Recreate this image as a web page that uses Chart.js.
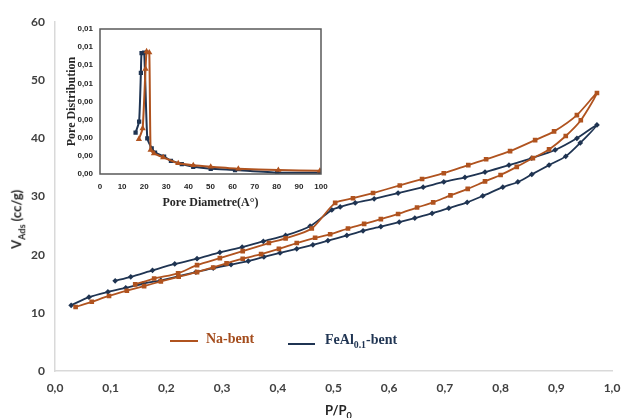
<!DOCTYPE html>
<html>
<head>
<meta charset="utf-8">
<script src="https://cdn.jsdelivr.net/npm/chart.js@4/dist/chart.umd.min.js"></script>
<style>
    body { margin: 0; background: #fff; }
    #wrap { position: relative; width: 624px; height: 418px; overflow: hidden; }
    #main { position: absolute; left: 0; top: 0; }
    #insetCanvas { position: absolute; left: 40px; top: 10px; }
    .lbl { position: absolute; white-space: nowrap; }
    .axis { font-family: Lato, "Open Sans", sans-serif; font-weight: bold; color: #262626; font-size: 13px; }
    .leg { font-family: "Liberation Serif", "Times New Roman", serif; font-weight: bold; font-size: 14px; }
    .swatch { position: absolute; height: 2px; }
    sub { font-size: 70%; }
</style>
</head>
<body>
<div id="wrap">
    <canvas id="main" width="624" height="418"></canvas>
    <canvas id="insetCanvas" width="290" height="200"></canvas>

    <div class="lbl axis" id="yTitle" style="left:-12px; top:210px; transform: rotate(-90deg); transform-origin: center;">V<sub>Ads</sub> (cc/g)</div>
    <div class="lbl axis" style="left:325px; top:402px;">P/P<sub>0</sub></div>

    <div class="swatch" style="left:170px; top:340px; width:28px; background:#b0531f;"></div>
    <div class="lbl leg" style="left:206px; top:331px; color:#a44c1c;">Na-bent</div>
    <div class="swatch" style="left:288px; top:343px; width:27px; background:#1f3452;"></div>
    <div class="lbl leg" style="left:325px; top:332px; color:#1f3452;">FeAl<sub>0.1</sub>-bent</div>
</div>

<script>
// isotherm, Na-bent (adsorption then desorption)
const naAdsP = [0.037, 0.066, 0.097, 0.129, 0.160, 0.190, 0.222, 0.255, 0.284, 0.308, 0.337, 0.370, 0.402, 0.434, 0.467, 0.494,
    0.526, 0.555, 0.585, 0.616, 0.650, 0.679, 0.710, 0.741, 0.772, 0.800, 0.829, 0.858, 0.887, 0.917, 0.944, 0.973];
const naAdsV = [11.0, 11.9, 12.9, 13.8, 14.6, 15.4, 16.2, 17.0, 17.8, 18.5, 19.3, 20.1, 21.0, 22.0, 22.9, 23.5,
    24.5, 25.3, 26.1, 27.0, 28.1, 29.0, 30.2, 31.3, 32.6, 33.7, 35.1, 36.6, 38.1, 40.4, 43.1, 47.8];
const naDesP = [0.937, 0.896, 0.862, 0.817, 0.774, 0.742, 0.698, 0.659, 0.619, 0.571, 0.535, 0.503,
    0.461, 0.414, 0.384, 0.337, 0.296, 0.255, 0.221, 0.178, 0.144];
const naDesV = [44.0, 41.2, 39.7, 37.8, 36.4, 35.4, 34.0, 33.0, 31.9, 30.6, 29.7, 28.9,
    24.5, 22.8, 22.0, 20.6, 19.4, 18.2, 16.8, 15.9, 14.9];

// isotherm, FeAl0.1-bent
const feAdsP = [0.029, 0.061, 0.095, 0.127, 0.158, 0.190, 0.222, 0.253, 0.284, 0.316, 0.347, 0.375, 0.404, 0.434, 0.463, 0.490,
    0.524, 0.553, 0.585, 0.618, 0.646, 0.677, 0.707, 0.740, 0.768, 0.804, 0.831, 0.856, 0.887, 0.917, 0.943, 0.973];
const feAdsV = [11.3, 12.7, 13.6, 14.3, 15.0, 15.6, 16.3, 17.0, 17.7, 18.3, 18.9, 19.6, 20.3, 21.0, 21.7, 22.4,
    23.3, 24.1, 24.8, 25.6, 26.3, 27.1, 28.0, 29.0, 30.1, 31.6, 32.5, 33.8, 35.4, 36.9, 39.2, 42.3];
const feDesP = [0.937, 0.898, 0.856, 0.815, 0.772, 0.736, 0.698, 0.661, 0.616, 0.573, 0.539, 0.512, 0.497,
    0.458, 0.414, 0.374, 0.336, 0.296, 0.255, 0.215, 0.175, 0.136, 0.108];
const feDesV = [40.0, 38.0, 36.6, 35.4, 34.2, 33.3, 32.5, 31.6, 30.6, 29.6, 28.9, 28.2, 27.7,
    24.9, 23.3, 22.3, 21.3, 20.4, 19.3, 18.4, 17.3, 16.2, 15.5];

const xTickLabels = ['0,0', '0,1', '0,2', '0,3', '0,4', '0,5', '0,6', '0,7', '0,8', '0,9', '1,0'];
const yTickLabels = ['0', '10', '20', '30', '40', '50', '60'];

// inset: pore size distribution
const naPoreD = [17.6, 19.3, 20.6, 21.1, 22.3, 22.9, 24.4, 28.6, 35.4, 42.2, 50.1, 62.6, 80.7, 99.5];
const naPoreV = [0.00192, 0.00252, 0.0058, 0.00676, 0.0067, 0.00133, 0.00114, 0.00092, 0.00059, 0.00048, 0.0004, 0.00029, 0.00022, 0.00018];
const fePoreD = [16.1, 17.7, 18.5, 18.8, 20.0, 21.4, 23.4, 24.9, 29.0, 32.1, 37.0, 42.2, 50.1, 61.1, 80.2, 99.5];
const fePoreV = [0.00228, 0.00289, 0.00558, 0.00667, 0.0067, 0.00197, 0.00142, 0.00118, 0.00096, 0.00073, 0.00055, 0.0004, 0.00029, 0.00022, 0.00007, 0.00007];

const insetXTickLabels = ['0', '10', '20', '30', '40', '50', '60', '70', '80', '90', '100'];
const insetYTickLabels = ['0,00', '0,00', '0,00', '0,00', '0,00', '0,01', '0,01', '0,01', '0,01'];

const orange = '#b0531f';
const navy = '#1f3452';

function pts(xs, ys) {
    const out = [];
    for (let i = 0; i < xs.length; i++) {
        out.push({ x: xs[i], y: ys[i] });
    }
    return out;
}

const mainFont = { family: 'Lato, "Open Sans", sans-serif', size: 12, weight: 'bold' };

new Chart(document.getElementById('main').getContext('2d'), {
    type: 'scatter',
    data: {
        datasets: [{
            label: 'Na-bent',
            data: pts(naAdsP, naAdsV).concat(pts(naDesP, naDesV)),
            showLine: true,
            borderColor: orange,
            backgroundColor: orange,
            borderWidth: 1.8,
            tension: 0.25,
            pointStyle: 'rect',
            pointRadius: 2
        }, {
            label: 'FeAl0.1-bent',
            data: pts(feAdsP, feAdsV).concat(pts(feDesP, feDesV)),
            showLine: true,
            borderColor: navy,
            backgroundColor: navy,
            borderWidth: 1.8,
            tension: 0.25,
            pointStyle: 'rectRot',
            pointRadius: 1.6
        }]
    },
    options: {
        responsive: false,
        animation: false,
        layout: { padding: { left: 0, right: 12, top: 22, bottom: 0 } },
        plugins: { legend: { display: false }, tooltip: { enabled: false } },
        scales: {
            x: {
                type: 'linear',
                min: 0,
                max: 1,
                // tick length only spaces the labels, nothing is drawn
                grid: { display: false, tickLength: 8 },
                border: { display: true, color: '#d9d9d9', width: 1.5 },
                ticks: {
                    stepSize: 0.1,
                    color: '#404040',
                    font: mainFont,
                    padding: 2,
                    callback: (v, i) => xTickLabels[i]
                },
                afterFit: (scale) => { scale.height = 47; }
            },
            y: {
                type: 'linear',
                min: 0,
                max: 60,
                grid: { display: false, drawTicks: false },
                border: { display: true, color: '#d9d9d9', width: 1.5 },
                ticks: {
                    stepSize: 10,
                    color: '#404040',
                    font: mainFont,
                    padding: 10,
                    callback: (v, i) => yTickLabels[i]
                },
                afterFit: (scale) => { scale.width = 55; }
            }
        }
    }
});

const boxPlugin = {
    id: 'box',
    afterDraw: (chart) => {
        const a = chart.chartArea;
        const ctx = chart.ctx;
        ctx.save();
        ctx.strokeStyle = '#595959';
        ctx.lineWidth = 1.5;
        ctx.strokeRect(a.left, a.top, a.right - a.left, a.bottom - a.top);
        ctx.restore();
    }
};

const insetFont = { family: '"Liberation Sans", sans-serif', size: 8, weight: 'bold' };
const insetTitleFont = { family: '"Liberation Serif", serif', size: 12, weight: 'bold' };

new Chart(document.getElementById('insetCanvas').getContext('2d'), {
    type: 'scatter',
    data: {
        datasets: [{
            label: 'Na-bent',
            data: pts(naPoreD, naPoreV),
            showLine: true,
            borderColor: orange,
            backgroundColor: orange,
            borderWidth: 2,
            tension: 0.15,
            pointStyle: 'triangle',
            pointRadius: 1.6
        }, {
            label: 'FeAl0.1-bent',
            data: pts(fePoreD, fePoreV),
            showLine: true,
            borderColor: navy,
            backgroundColor: navy,
            borderWidth: 2,
            tension: 0.15,
            pointStyle: 'rect',
            pointRadius: 1.6
        }]
    },
    options: {
        responsive: false,
        animation: false,
        layout: { padding: { left: 25, right: 9, top: 19, bottom: 0 } },
        plugins: { legend: { display: false }, tooltip: { enabled: false } },
        scales: {
            x: {
                type: 'linear',
                min: 0,
                max: 100,
                grid: { display: false, tickLength: 6 },
                border: { display: false },
                ticks: {
                    stepSize: 10,
                    color: '#262626',
                    font: insetFont,
                    padding: 2,
                    maxRotation: 0,
                    callback: (v, i) => insetXTickLabels[i]
                },
                title: {
                    display: true,
                    text: 'Pore Diametre(A°)',
                    color: '#262626',
                    font: insetTitleFont,
                    padding: { top: 0, bottom: 0 }
                },
                afterFit: (scale) => { scale.height = 36; }
            },
            y: {
                type: 'linear',
                min: 0,
                max: 0.008,
                grid: { display: false, drawTicks: false },
                border: { display: false },
                ticks: {
                    stepSize: 0.001,
                    color: '#262626',
                    font: insetFont,
                    padding: 7,
                    callback: (v, i) => insetYTickLabels[i]
                },
                title: {
                    display: true,
                    text: 'Pore Distribution',
                    color: '#262626',
                    font: insetTitleFont,
                    padding: { top: 0, bottom: 0 }
                },
                afterFit: (scale) => { scale.width = 35; }
            }
        }
    },
    plugins: [boxPlugin]
});
</script>
</body>
</html>
